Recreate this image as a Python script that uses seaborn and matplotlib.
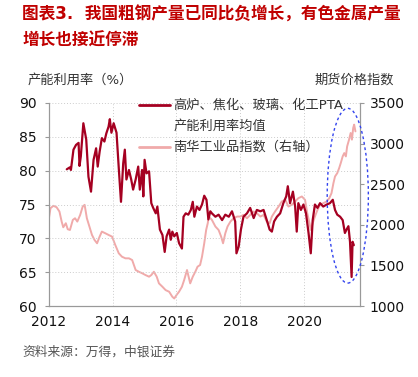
import pandas as pd
import matplotlib
matplotlib.use("Agg")
import matplotlib.pyplot as plt
import seaborn as sns
from matplotlib.patches import Ellipse
from matplotlib.lines import Line2D

# 高炉、焦化、玻璃、化工PTA 产能利用率均值（%），按年份小数读取
util_t = [2012.56, 2012.66, 2012.69, 2012.77, 2012.85, 2012.93, 2012.96, 2013.00, 2013.08, 2013.17,
          2013.24, 2013.32, 2013.40, 2013.48, 2013.53, 2013.59, 2013.66, 2013.74, 2013.80, 2013.87,
          2013.91, 2013.96, 2014.03, 2014.12, 2014.19, 2014.26, 2014.33, 2014.38, 2014.43, 2014.51,
          2014.58, 2014.64, 2014.72, 2014.80, 2014.85, 2014.92, 2014.96, 2015.00, 2015.06, 2015.14,
          2015.21, 2015.27, 2015.35, 2015.40, 2015.48, 2015.56, 2015.63, 2015.69, 2015.77, 2015.82,
          2015.87, 2015.93, 2016.01, 2016.08, 2016.17, 2016.22, 2016.29, 2016.37, 2016.45, 2016.51,
          2016.56, 2016.64, 2016.72, 2016.80, 2016.87, 2016.94, 2017.00, 2017.06, 2017.11, 2017.22,
          2017.32, 2017.43, 2017.53, 2017.64, 2017.74, 2017.84, 2017.88, 2017.95, 2018.02, 2018.10,
          2018.21, 2018.31, 2018.42, 2018.52, 2018.63, 2018.73, 2018.83, 2018.92, 2018.99, 2019.06,
          2019.15, 2019.25, 2019.35, 2019.44, 2019.49, 2019.56, 2019.65, 2019.72, 2019.77, 2019.82,
          2019.90, 2019.98, 2020.06, 2020.14, 2020.21, 2020.27, 2020.34, 2020.42, 2020.50, 2020.60,
          2020.71, 2020.81, 2020.90, 2020.97, 2021.04, 2021.13, 2021.21, 2021.28, 2021.33, 2021.39,
          2021.44, 2021.49, 2021.52, 2021.56]
util_v = [80.2, 80.5, 80.1, 83.1, 83.8, 84.1, 80.7, 82.1, 87.0, 84.6,
          79.1, 76.9, 81.6, 83.3, 80.6, 82.8, 84.8, 84.3, 85.5, 86.5,
          87.6, 85.6, 87.0, 85.6, 80.4, 75.4, 81.1, 83.1, 78.7, 80.1,
          78.7, 77.2, 78.7, 80.6, 77.2, 80.1, 76.2, 81.6, 79.6, 79.9,
          75.2, 74.5, 73.7, 74.7, 71.3, 70.5, 68.0, 70.3, 71.3, 69.8,
          71.0, 70.3, 70.8, 69.3, 68.5, 73.2, 73.7, 73.5, 74.2, 75.4,
          73.2, 74.7, 74.2, 75.0, 76.3, 75.7, 72.8, 74.0, 73.7, 73.2,
          73.5, 72.7, 73.5, 73.2, 74.0, 72.5, 67.8, 68.8, 71.3, 73.2,
          73.7, 74.5, 73.0, 74.2, 74.0, 74.2, 72.7, 71.3, 71.0, 72.5,
          73.2, 73.7, 75.2, 76.2, 77.7, 75.2, 76.9, 74.7, 71.0, 75.2,
          74.2, 75.0, 73.7, 70.8, 67.8, 72.7, 75.0, 74.5, 75.2, 74.7,
          75.0, 75.2, 75.7, 74.2, 73.5, 73.2, 72.7, 70.8, 71.3, 71.8,
          69.5, 64.3, 69.5, 69.0]

# 南华工业品指数（右轴）
nh_t = [2012.00, 2012.05, 2012.14, 2012.24, 2012.33, 2012.40, 2012.45, 2012.53, 2012.59, 2012.66,
        2012.75, 2012.82, 2012.89, 2012.98, 2013.06, 2013.12, 2013.19, 2013.27, 2013.35, 2013.43,
        2013.51, 2013.59, 2013.66, 2013.77, 2013.87, 2013.98, 2014.08, 2014.19, 2014.29, 2014.40,
        2014.51, 2014.61, 2014.72, 2014.82, 2014.93, 2015.03, 2015.14, 2015.21, 2015.29, 2015.38,
        2015.45, 2015.56, 2015.66, 2015.77, 2015.87, 2015.93, 2016.00, 2016.08, 2016.17, 2016.24,
        2016.33, 2016.38, 2016.43, 2016.51, 2016.59, 2016.66, 2016.74, 2016.80, 2016.87, 2016.93,
        2016.98, 2017.01, 2017.11, 2017.22, 2017.32, 2017.40, 2017.46, 2017.53, 2017.60, 2017.69,
        2017.79, 2017.90, 2018.00, 2018.10, 2018.21, 2018.31, 2018.42, 2018.52, 2018.63, 2018.73,
        2018.83, 2018.92, 2018.99, 2019.09, 2019.20, 2019.30, 2019.41, 2019.51, 2019.61, 2019.72,
        2019.82, 2019.93, 2020.03, 2020.10, 2020.17, 2020.21, 2020.27, 2020.34, 2020.42, 2020.50,
        2020.60, 2020.71, 2020.79, 2020.86, 2020.92, 2020.97, 2021.04, 2021.10, 2021.15, 2021.21,
        2021.26, 2021.31, 2021.35, 2021.41, 2021.46, 2021.50, 2021.54, 2021.57, 2021.61]
nh_v = [2081, 2205, 2234, 2217, 2164, 2040, 1970, 2020, 1946, 1937,
        2061, 2081, 2040, 2122, 2225, 2246, 2081, 1979, 1876, 1814,
        1773, 1855, 1917, 1896, 1876, 1855, 1753, 1650, 1608, 1588,
        1588, 1567, 1444, 1423, 1403, 1382, 1362, 1382, 1423, 1362,
        1280, 1238, 1197, 1177, 1115, 1094, 1136, 1177, 1238, 1321,
        1444, 1362, 1280, 1362, 1423, 1485, 1506, 1608, 1773, 1937,
        2020, 2102, 2061, 1979, 1937, 1855, 1773, 1896, 1979, 2040,
        2081, 2102, 2102, 2122, 2081, 2122, 2164, 2143, 2102, 2122,
        2040, 2020, 2102, 2164, 2225, 2287, 2308, 2225, 2246, 2287,
        2328, 2349, 2308, 2143, 2020, 1937, 2020, 2102, 2184, 2246,
        2266, 2287, 2328, 2390, 2513, 2595, 2636, 2698, 2760, 2842,
        2883, 2842, 2965, 3048, 3130, 3048, 3192, 3233, 3150]

left_ticks = [60, 65, 70, 75, 80, 85, 90]
right_ticks = [1000, 1500, 2000, 2500, 3000, 3500]
year_ticks = [2012, 2014, 2016, 2018, 2020]

red = "#A50021"
pink = "#F0AAAA"
txt = "#333333"

sns.set_style("white")
plt.rcParams["font.family"] = ["DejaVu Sans", "Noto Sans CJK SC"]

df_u = pd.DataFrame({"t": util_t, "v": util_v})
df_n = pd.DataFrame({"t": nh_t, "v": nh_v})

fig = plt.figure(figsize=(4.18, 3.77), dpi=100)
ax = fig.add_axes([0.117, 0.188, 0.744, 0.539])
ax2 = ax.twinx()

sns.lineplot(data=df_n, x="t", y="v", ax=ax2, color=pink, linewidth=1.4)
sns.lineplot(data=df_u, x="t", y="v", ax=ax, color=red, linewidth=1.6)

ax.set_zorder(ax2.get_zorder() + 1)
ax.patch.set_visible(False)

ax.set_xlim(2012, 2021.75)
ax.set_ylim(60, 90)
ax2.set_ylim(1000, 3500)
ax.set_xticks(year_ticks)
ax.set_yticks(left_ticks)
ax2.set_yticks(right_ticks)
ax.set_xlabel("")
ax.set_ylabel("")
ax2.set_xlabel("")
ax2.set_ylabel("")

ax.grid(True, color="#cccccc", linestyle=(0, (1, 2)), linewidth=0.7)
ax2.grid(False)

for a in (ax, ax2):
    for s in a.spines.values():
        s.set_color("#999999")
        s.set_linewidth(0.8)
    a.spines["top"].set_visible(False)
    a.tick_params(colors="#999999", labelcolor="#111111", labelsize=10,
                  length=3, width=0.8, direction="out")
ax.tick_params(axis="y", pad=6)
ax2.tick_params(axis="y", pad=4)

# 蓝色虚线椭圆
ell = Ellipse((2021.37, 76.3), width=1.29, height=25.8, fill=False,
              edgecolor="#3344ee", linestyle=(0, (2, 2)), linewidth=1.0, clip_on=False, zorder=5)
ax.add_patch(ell)

# 图例
tr = ax.transAxes
ax.add_line(Line2D([0.29, 0.39], [0.99, 0.99], transform=tr, color=red, linewidth=2, clip_on=False))
ax.add_line(Line2D([0.29, 0.39], [0.784, 0.784], transform=tr, color=pink, linewidth=2, clip_on=False))
ax.text(0.40, 0.99, "高炉、焦化、玻璃、化工PTA", transform=tr, fontsize=9.5, color=txt, va="center")
ax.text(0.40, 0.887, "产能利用率均值", transform=tr, fontsize=9.5, color=txt, va="center")
ax.text(0.40, 0.784, "南华工业品指数（右轴）", transform=tr, fontsize=9.5, color=txt, va="center")

fig.text(0.065, 0.788, "产能利用率（%）", fontsize=9.5, color=txt, va="center")
fig.text(0.943, 0.788, "期货价格指数", fontsize=9.5, color=txt, va="center", ha="right")

fig.text(0.053, 0.96, "图表3.  我国粗钢产量已同比负增长，有色金属产量", fontsize=12,
         color="#C00000", fontweight="bold", va="center")
fig.text(0.053, 0.893, "增长也接近停滞", fontsize=12, color="#C00000", fontweight="bold", va="center")
fig.text(0.053, 0.066, "资料来源：万得，中银证券", fontsize=9.2, color="#555555", va="center",
         style="italic")

fig.savefig("out.png", dpi=100)
